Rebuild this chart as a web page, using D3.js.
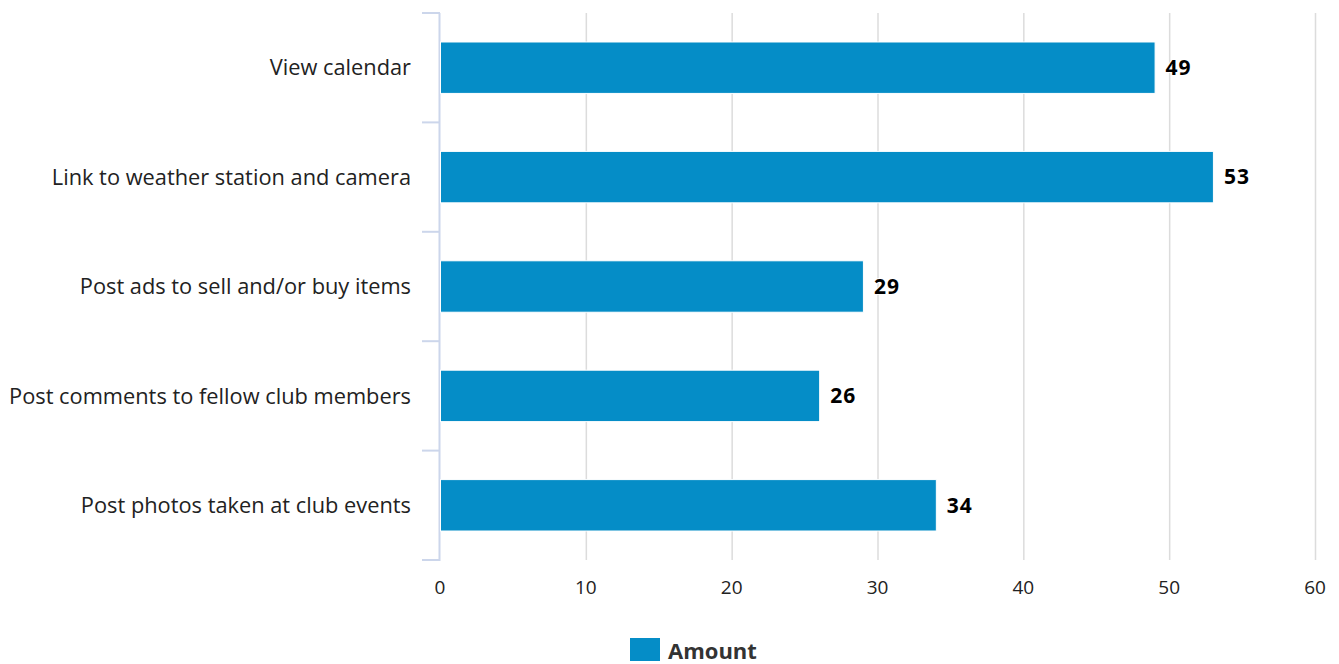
<!DOCTYPE html>
<meta charset="utf-8">
<style>
  body { margin: 0; background: #fff; }
  text { font-family: "Open Sans", sans-serif; }
</style>
<body>
<svg width="1339" height="664"></svg>
</body>
<script src="https://d3js.org/d3.v7.min.js"></script>
<script>

var categories = [
  "View calendar",
  "Link to weather station and camera",
  "Post ads to sell and/or buy items",
  "Post comments to fellow club members",
  "Post photos taken at club events"
];
var amounts = [49, 53, 29, 26, 34];
var xTicks = [0, 10, 20, 30, 40, 50, 60];
var seriesName = "Amount";

var svg = d3.select("svg");
var plotLeft = 440, plotRight = 1315, plotTop = 13, plotBottom = 560;

var x = d3.scaleLinear().domain([0, 60]).range([plotLeft, plotRight]);
var y = d3.scaleBand().domain(categories).range([plotTop, plotBottom])
    .paddingInner(0.53).paddingOuter(0.265);

// grid lines
svg.append("g").selectAll("line")
  .data(xTicks.slice(1))
  .join("line")
    .attr("x1", d => x(d) + 0.5).attr("x2", d => x(d) + 0.5)
    .attr("y1", plotTop).attr("y2", plotBottom)
    .attr("stroke", "#dcdcdc").attr("stroke-width", 1.5);

// x tick labels
svg.append("g").selectAll("text")
  .data(xTicks)
  .join("text")
    .attr("x", d => x(d))
    .attr("y", 594)
    .attr("text-anchor", "middle")
    .attr("fill", "#222")
    .style("font-size", "19px")
    .text(d => d);

// y axis line + category ticks
var step = (plotBottom - plotTop) / categories.length;
svg.append("line")
  .attr("x1", plotLeft - 0.5).attr("x2", plotLeft - 0.5)
  .attr("y1", plotTop).attr("y2", plotBottom + 1)
  .attr("stroke", "#ccd6eb").attr("stroke-width", 2);
svg.append("g").selectAll("line")
  .data(d3.range(categories.length + 1))
  .join("line")
    .attr("x1", plotLeft - 18).attr("x2", plotLeft)
    .attr("y1", i => plotTop + i * step).attr("y2", i => plotTop + i * step)
    .attr("stroke", "#ccd6eb").attr("stroke-width", 2);

// category labels
svg.append("g").selectAll("text")
  .data(categories)
  .join("text")
    .attr("x", 411)
    .attr("y", d => y(d) + y.bandwidth() / 2)
    .attr("dy", "0.35em")
    .attr("text-anchor", "end")
    .attr("fill", "#222")
    .style("font-size", "21.8px")
    .text(d => d);

// bars
svg.append("g").selectAll("rect")
  .data(amounts)
  .join("rect")
    .attr("x", x(0) + 0.5)
    .attr("y", (d, i) => y(categories[i]))
    .attr("width", d => x(d) - x(0))
    .attr("height", y.bandwidth())
    .attr("fill", "#058dc7")
    .attr("stroke", "#fff").attr("stroke-width", 1);

// value labels
svg.append("g").selectAll("text")
  .data(amounts)
  .join("text")
    .attr("x", d => x(d) + 11)
    .attr("y", (d, i) => y(categories[i]) + y.bandwidth() / 2)
    .attr("dy", "0.35em")
    .attr("fill", "#000")
    .style("font-size", "21px")
    .style("font-weight", "bold")
    .style("letter-spacing", "1px")
    .style("stroke", "#fff").style("stroke-width", "2px")
    .style("paint-order", "stroke")
    .text(d => d);

// legend
var legend = svg.append("g");
legend.append("rect")
  .attr("x", 630).attr("y", 638)
  .attr("width", 30).attr("height", 23)
  .attr("fill", "#058dc7");
legend.append("text")
  .attr("x", 668).attr("y", 659)
  .attr("fill", "#333")
  .style("font-size", "22px")
  .style("font-weight", "bold")
  .text(seriesName);

</script>
